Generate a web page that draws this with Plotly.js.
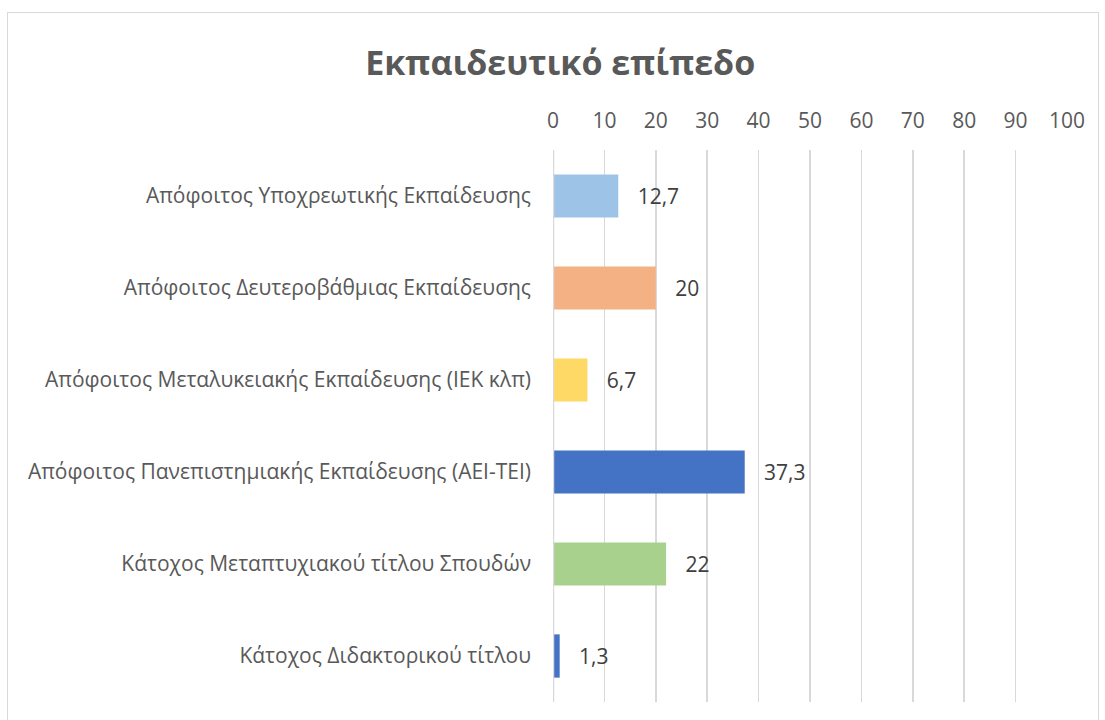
<!DOCTYPE html>
<html>
<head>
<meta charset="utf-8">
<script src="https://cdn.plot.ly/plotly-3.0.1.min.js"></script>
<style>
  html, body { margin: 0; padding: 0; background: #fff; }
  #wrap { position: relative; width: 1105px; height: 720px; }
  #chart { position: absolute; left: 0; top: 0; width: 1105px; height: 720px; }
  #frame { position: absolute; left: 7px; top: 12px; width: 1090px; height: 720px; border: 1px solid #D9D9D9; pointer-events: none; }
</style>
</head>
<body>
<div id="wrap">
  <div id="chart"></div>
  <div id="frame"></div>
</div>
<script>
const categories = [
  "Απόφοιτος Υποχρεωτικής Εκπαίδευσης",
  "Απόφοιτος Δευτεροβάθμιας Εκπαίδευσης",
  "Απόφοιτος Μεταλυκειακής Εκπαίδευσης (ΙΕΚ κλπ)",
  "Απόφοιτος Πανεπιστημιακής Εκπαίδευσης (ΑΕΙ-ΤΕΙ)",
  "Κάτοχος Μεταπτυχιακού τίτλου Σπουδών",
  "Κάτοχος Διδακτορικού τίτλου"
];
const values = [12.7, 20, 6.7, 37.3, 22, 1.3];
const barColors = ["#9DC3E6", "#F4B183", "#FFD966", "#4472C4", "#A9D18E", "#4472C4"];
const tickValues = [0, 10, 20, 30, 40, 50, 60, 70, 80, 90, 100];
const titleText = "Εκπαιδευτικό επίπεδο";

const FONT = "Open Sans, Noto Sans, sans-serif";

const trace = {
  type: "bar",
  orientation: "h",
  y: categories,
  x: values,
  marker: { color: barColors, line: { width: 0 } },
  width: 0.47,
  text: values.map(v => String(v).replace(".", ",")),
  texttemplate: "   %{text}",
  textposition: "outside",
  cliponaxis: false,
  textfont: { family: FONT, size: 21, color: "#404040" },
  hoverinfo: "x+y"
};

const layout = {
  width: 1105,
  height: 720,
  margin: { l: 553, r: 38, t: 150, b: 18 },
  paper_bgcolor: "rgba(0,0,0,0)",
  plot_bgcolor: "rgba(0,0,0,0)",
  separators: ", ",
  showlegend: false,
  title: {
    text: "<b>" + titleText + "</b>",
    x: 0.507,
    xanchor: "center",
    y: 0.913,
    yanchor: "middle",
    font: { family: FONT, size: 34, color: "#595959" }
  },
  xaxis: {
    side: "top",
    range: [0, 100],
    tickvals: tickValues,
    ticktext: tickValues.map(String),
    showgrid: true,
    gridcolor: "#D9D9D9",
    gridwidth: 1.5,
    zeroline: false,
    showline: false,
    ticks: "",
    ticklabelstandoff: 17,
    tickfont: { family: FONT, size: 21, color: "#595959" },
    fixedrange: true
  },
  yaxis: {
    autorange: "reversed",
    type: "category",
    showgrid: false,
    zeroline: false,
    showline: false,
    ticks: "",
    ticklabelstandoff: 21,
    tickfont: { family: FONT, size: 21, color: "#595959" },
    fixedrange: true
  },
  shapes: [{
    type: "line", xref: "x", yref: "paper",
    x0: 0, x1: 0, y0: 0, y1: 1,
    line: { color: "#D9D9D9", width: 2.5 }
  }]
};

Plotly.newPlot("chart", [trace], layout, { displayModeBar: false, staticPlot: true });
</script>
</body>
</html>
